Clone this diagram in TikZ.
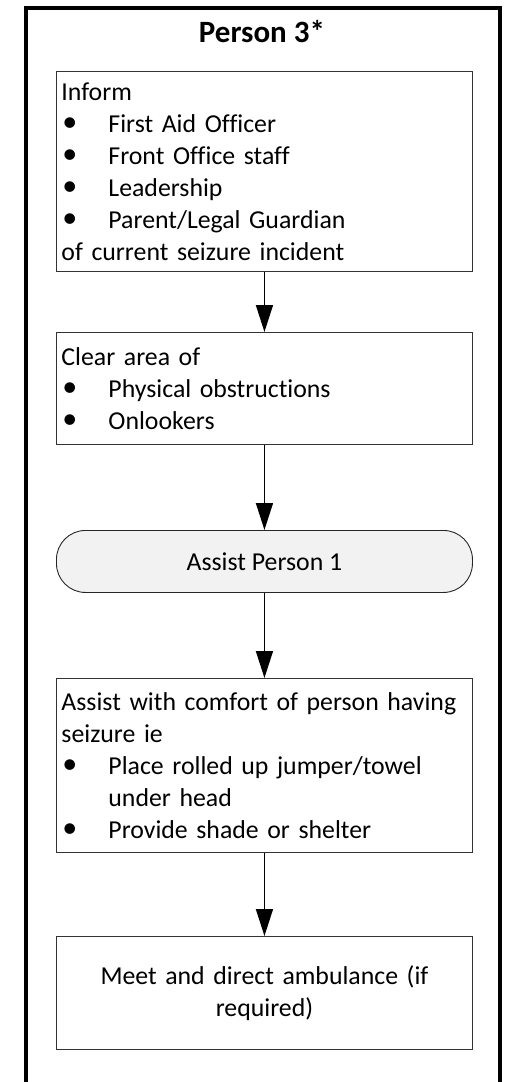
\documentclass[tikz,border=0pt]{standalone}
\usepackage{fontspec}
\setmainfont[Ligatures=NoCommon]{Carlito}
\usetikzlibrary{arrows.meta}
\newcommand{\bul}{\makebox[47pt][l]{\hspace*{1pt}\raisebox{0.5pt}{\fontsize{30}{32}\selectfont\textbullet}}}
\tikzset{
  stepbox/.style={draw=black!80, line width=0.9pt, rectangle, minimum width=416pt,
    text width=406pt, inner xsep=5pt, inner ysep=0pt, align=left, anchor=north west,
    font=\fontsize{25.8}{32}\selectfont},
  termbox/.style={draw=black!85, line width=0.9pt, fill=black!5, rounded corners=29pt,
    minimum width=416pt, minimum height=62pt, anchor=north west, inner sep=0pt,
    font=\fontsize{25.8}{32}\selectfont},
  flow/.style={line width=1.5pt, -{Triangle[length=27pt,width=17pt]}},
  frame/.style={line width=4pt, line cap=butt}
}
\begin{document}
\begin{tikzpicture}[x=1pt,y=-1pt]
\useasboundingbox (0,0) rectangle (504,1082);
\draw[frame] (26,1090) -- (26,8) -- (500,8) -- (500,1090);
\node[anchor=base, font=\fontsize{31}{34}\selectfont\bfseries] (title) at (262,42) {Person 3*};
\node[stepbox, minimum height=200pt] (inform) at (56,71) {Inform\\
\bul First Aid Officer\\
\bul Front Office staff\\
\bul Leadership\\
\bul Parent/Legal Guardian\\
of current seizure incident};
\node[stepbox, minimum height=112pt] (clear) at (56,332) {Clear area of\\
\bul Physical obstructions\\
\bul Onlookers};
\node[termbox] (assist) at (56,530) {Assist Person 1};
\node[stepbox, minimum height=174pt] (comfort) at (56,678) {Assist with comfort of person having\\
seizure ie\\
\bul Place rolled up jumper/towel\\
\hspace*{47pt}under head\\
\bul Provide shade or shelter};
\node[stepbox, minimum height=113pt, align=center] (amb) at (56,936) {Meet and direct ambulance (if\\
required)};
\draw[flow] (inform.south) -- (clear.north);
\draw[flow] (clear.south) -- (assist.north);
\draw[flow] (assist.south) -- (comfort.north);
\draw[flow] (comfort.south) -- (amb.north);
\end{tikzpicture}
\end{document}
